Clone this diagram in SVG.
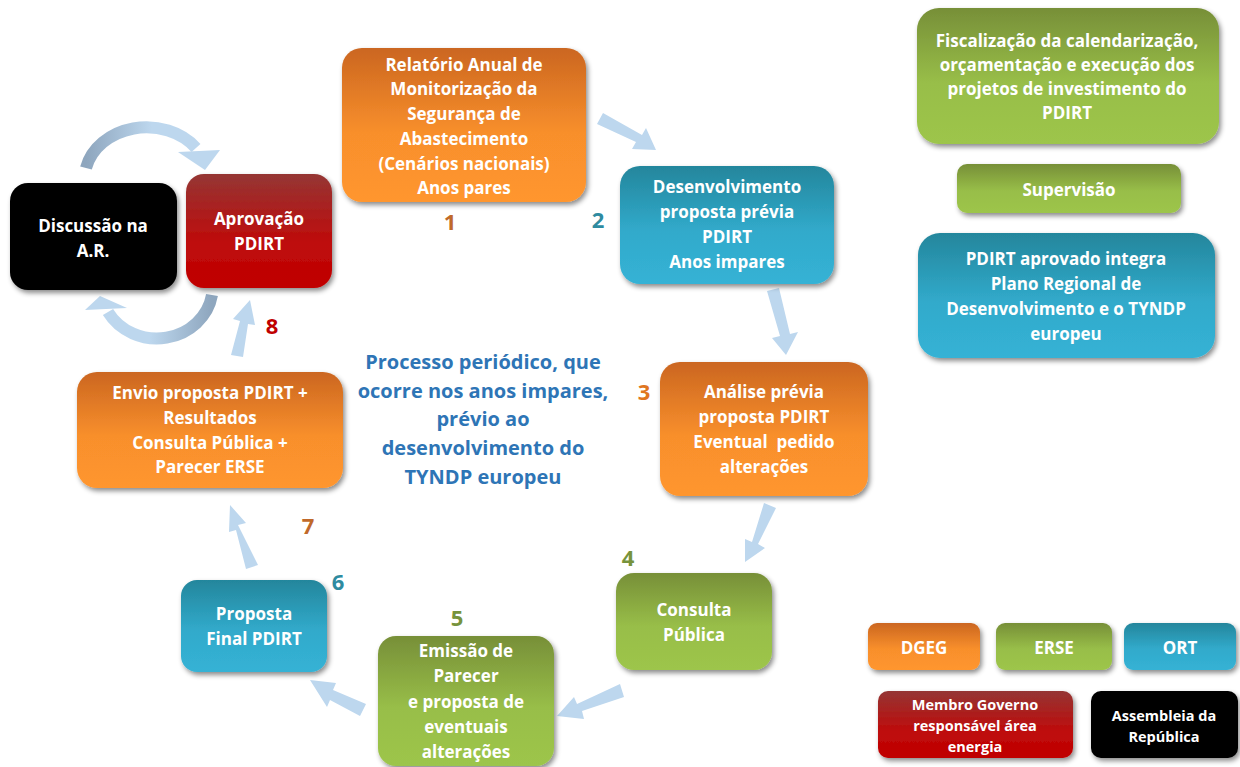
<svg xmlns="http://www.w3.org/2000/svg" width="1240" height="767" viewBox="0 0 1240 767">
<defs>
<linearGradient id="gO" x1="0" y1="0" x2="0" y2="1"><stop offset="0" stop-color="#CB6620"/><stop offset="0.55" stop-color="#F88F2C"/><stop offset="1" stop-color="#FF962E"/></linearGradient>
<linearGradient id="gT" x1="0" y1="0" x2="0" y2="1"><stop offset="0" stop-color="#24869C"/><stop offset="0.55" stop-color="#31AACB"/><stop offset="1" stop-color="#35B2D5"/></linearGradient>
<linearGradient id="gG" x1="0" y1="0" x2="0" y2="1"><stop offset="0" stop-color="#778F38"/><stop offset="0.55" stop-color="#98BE48"/><stop offset="1" stop-color="#9DC54B"/></linearGradient>
<linearGradient id="gR" x1="0" y1="0" x2="0" y2="1"><stop offset="0" stop-color="#953634"/><stop offset="0.6" stop-color="#BE0B0B"/><stop offset="1" stop-color="#C00000"/></linearGradient>
<linearGradient id="gArc1" x1="0" y1="0" x2="1" y2="0"><stop offset="0" stop-color="#8EA6BE"/><stop offset="0.6" stop-color="#BDD7EE"/><stop offset="1" stop-color="#BDD7EE"/></linearGradient>
<linearGradient id="gArc2" x1="1" y1="0" x2="0" y2="0"><stop offset="0" stop-color="#8EA6BE"/><stop offset="0.6" stop-color="#BDD7EE"/><stop offset="1" stop-color="#BDD7EE"/></linearGradient>
<filter id="sh" x="-10%" y="-10%" width="125%" height="130%"><feDropShadow dx="2" dy="3" stdDeviation="2.5" flood-color="#000" flood-opacity="0.45"/></filter>
</defs>
<style>
text{font-family:"Open Sans","Liberation Sans",sans-serif;font-weight:bold;text-anchor:middle}
.w{fill:#fff;font-size:17px}
.ws{fill:#fff;font-size:14.5px}
.num{font-size:22px}
.arr{fill:#BDD7EE}
.ctr{fill:#2E75B6;font-size:20px}
</style>
<rect width="1240" height="767" fill="#fff"/>

<g id="connectors">
<polygon class="arr" points="597,124 603,113 642,135 646,128 656,150 632,149 636,142"/>
<polygon class="arr" points="767,291 779,288 790,334 798,332 786,355 772,338 780,336"/>
<polygon class="arr" points="764,503 776,508 758,544 765,548 745,562 745,539 752,542"/>
<polygon class="arr" points="620,684 624,697 582,711 584,719 557,716 574,697 577,704"/>
<polygon class="arr" points="366,704 360,716 330,700 327,707 310,680 336,683 333,690"/>
<polygon class="arr" points="258,565 246,569 236,530 229,532 230,505 246,523 238,525"/>
<polygon class="arr" points="243,357 231,355 240,321 233,319 250,300 255,325 248,324"/>
<path d="M 86 168 A 62 52 0 0 1 196 148" fill="none" stroke="url(#gArc1)" stroke-width="12"/>
<polygon class="arr" points="178,152 220,150 205,170"/>
<path d="M 212 295 A 56 52 0 0 1 108 312" fill="none" stroke="url(#gArc2)" stroke-width="12"/>
<polygon class="arr" points="85,310 127,308 100,296"/>
</g>

<g id="n1"><rect x="342" y="48" width="244" height="154" rx="20" fill="url(#gO)" filter="url(#sh)"/>
<text class="w"><tspan x="464" y="71">Relatório Anual de</tspan><tspan x="464" y="95">Monitorização da</tspan><tspan x="464" y="120">Segurança de</tspan><tspan x="464" y="145">Abastecimento</tspan><tspan x="464" y="170">(Cenários nacionais)</tspan><tspan x="464" y="194">Anos pares</tspan></text></g>
<text class="num" x="450" y="230" fill="#C0692A">1</text>

<g id="n2"><rect x="620" y="166" width="214" height="118" rx="20" fill="url(#gT)" filter="url(#sh)"/>
<text class="w"><tspan x="727" y="193">Desenvolvimento</tspan><tspan x="727" y="218">proposta prévia</tspan><tspan x="727" y="243">PDIRT</tspan><tspan x="727" y="268">Anos impares</tspan></text></g>
<text class="num" x="598" y="228" fill="#2E8BA0">2</text>

<g id="n3"><rect x="660" y="362" width="208" height="134" rx="20" fill="url(#gO)" filter="url(#sh)"/>
<text class="w"><tspan x="764" y="398">Análise prévia</tspan><tspan x="764" y="423">proposta PDIRT</tspan><tspan x="764" y="448" xml:space="preserve">Eventual  pedido</tspan><tspan x="764" y="473">alterações</tspan></text></g>
<text class="num" x="644" y="400" fill="#E0761F">3</text>

<g id="n4"><rect x="616" y="573" width="156" height="97" rx="18" fill="url(#gG)" filter="url(#sh)"/>
<text class="w"><tspan x="694" y="616">Consulta</tspan><tspan x="694" y="641">Pública</tspan></text></g>
<text class="num" x="628" y="566" fill="#77933C">4</text>

<g id="n5"><rect x="378" y="636" width="176" height="130" rx="18" fill="url(#gG)" filter="url(#sh)"/>
<text class="w"><tspan x="466" y="657">Emissão de</tspan><tspan x="466" y="682">Parecer</tspan><tspan x="466" y="708">e proposta de</tspan><tspan x="466" y="733">eventuais</tspan><tspan x="466" y="758">alterações</tspan></text></g>
<text class="num" x="457" y="626" fill="#77933C">5</text>

<g id="n6"><rect x="181" y="580" width="146" height="92" rx="16" fill="url(#gT)" filter="url(#sh)"/>
<text class="w"><tspan x="254" y="620">Proposta</tspan><tspan x="254" y="645">Final PDIRT</tspan></text></g>
<text class="num" x="338" y="590" fill="#2E8BA0">6</text>

<g id="n7"><rect x="77" y="372" width="266" height="116" rx="20" fill="url(#gO)" filter="url(#sh)"/>
<text class="w"><tspan x="210" y="399">Envio proposta PDIRT +</tspan><tspan x="210" y="424">Resultados</tspan><tspan x="210" y="449">Consulta Pública +</tspan><tspan x="210" y="473">Parecer ERSE</tspan></text></g>
<text class="num" x="308" y="534" fill="#C0692A">7</text>

<g id="n8"><rect x="186" y="174" width="146" height="114" rx="18" fill="url(#gR)" filter="url(#sh)"/>
<text class="w"><tspan x="259" y="225">Aprovação</tspan><tspan x="259" y="250">PDIRT</tspan></text></g>
<text class="num" x="272" y="334" fill="#C00000">8</text>

<g id="n9"><rect x="10" y="183" width="167" height="107" rx="18" fill="#000" filter="url(#sh)"/>
<text class="w"><tspan x="93" y="232">Discussão na</tspan><tspan x="93" y="257">A.R.</tspan></text></g>

<g id="center"><text class="ctr"><tspan x="483" y="369">Processo periódico, que</tspan><tspan x="483" y="398">ocorre nos anos impares,</tspan><tspan x="483" y="426">prévio ao</tspan><tspan x="483" y="455">desenvolvimento do</tspan><tspan x="483" y="484">TYNDP europeu</tspan></text></g>

<g id="fisc"><rect x="917" y="8" width="302" height="136" rx="22" fill="url(#gG)" filter="url(#sh)"/>
<text class="w"><tspan x="1067" y="47">Fiscalização da calendarização,</tspan><tspan x="1067" y="71">orçamentação e execução dos</tspan><tspan x="1067" y="95">projetos de investimento do</tspan><tspan x="1067" y="119">PDIRT</tspan></text></g>

<g id="superv"><rect x="957" y="164" width="224" height="49" rx="10" fill="url(#gG)" filter="url(#sh)"/>
<text class="w" x="1069" y="196">Supervisão</text></g>

<g id="tyndp"><rect x="918" y="233" width="297" height="125" rx="22" fill="url(#gT)" filter="url(#sh)"/>
<text class="w"><tspan x="1066" y="265">PDIRT aprovado integra</tspan><tspan x="1066" y="290">Plano Regional de</tspan><tspan x="1066" y="315">Desenvolvimento e o TYNDP</tspan><tspan x="1066" y="340">europeu</tspan></text></g>

<g id="leg-dgeg"><rect x="868" y="623" width="112" height="47" rx="9" fill="url(#gO)" filter="url(#sh)"/><text class="w" x="924" y="654">DGEG</text></g>
<g id="leg-erse"><rect x="996" y="623" width="116" height="47" rx="9" fill="url(#gG)" filter="url(#sh)"/><text class="w" x="1054" y="654">ERSE</text></g>
<g id="leg-ort"><rect x="1124" y="623" width="112" height="47" rx="9" fill="url(#gT)" filter="url(#sh)"/><text class="w" x="1180" y="654">ORT</text></g>
<g id="leg-gov"><rect x="878" y="691" width="195" height="67" rx="10" fill="url(#gR)" filter="url(#sh)"/>
<text class="ws"><tspan x="975" y="710">Membro Governo</tspan><tspan x="975" y="731">responsável área</tspan><tspan x="975" y="752">energia</tspan></text></g>
<g id="leg-ar"><rect x="1091" y="691" width="147" height="67" rx="10" fill="#000" filter="url(#sh)"/>
<text class="ws"><tspan x="1164" y="721">Assembleia da</tspan><tspan x="1164" y="742">República</tspan></text></g>
</svg>
